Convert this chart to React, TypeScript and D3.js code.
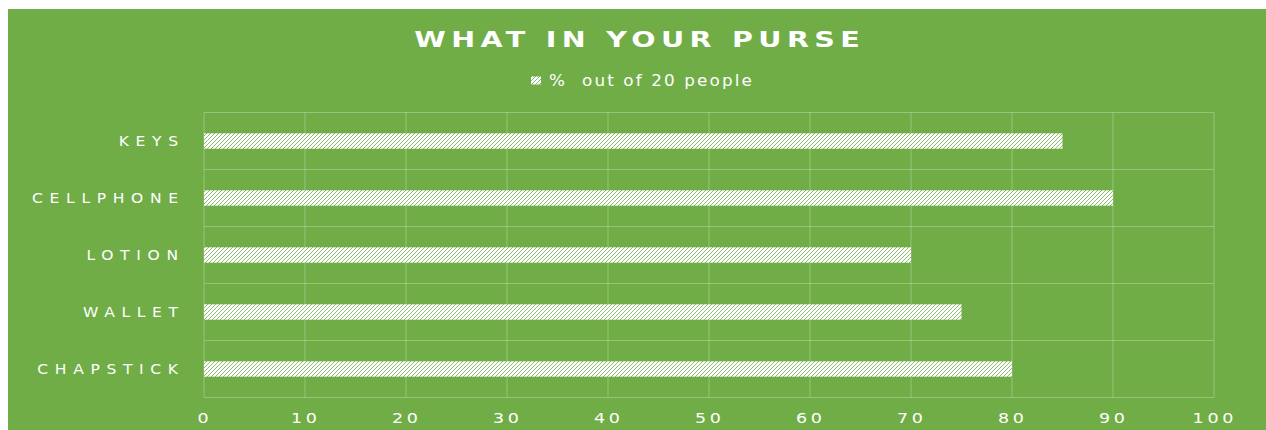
import React from "react";
import * as d3 from "d3";

const categories = ["KEYS", "CELLPHONE", "LOTION", "WALLET", "CHAPSTICK"];
const values = [85, 90, 70, 75, 80];
const xTicks = [0, 10, 20, 30, 40, 50, 60, 70, 80, 90, 100];
const seriesName = "%  out of 20 people";
const title = "WHAT IN YOUR PURSE";

const W = 1266;
const H = 430;
const GREEN = "#70AD47";
const FONT = "'DejaVu Sans', sans-serif";

export default function App() {
  const plot = { left: 204, right: 1214, top: 112.5, bottom: 397.5 };
  const x = d3.scaleLinear().domain([0, 100]).range([plot.left, plot.right]);
  const y = d3
    .scaleBand<string>()
    .domain(categories)
    .range([plot.top, plot.bottom])
    .paddingInner(0.73)
    .paddingOuter(0.365);
  const band = d3.scaleBand<string>().domain(categories).range([plot.top, plot.bottom]);
  const boundaries = categories.map((c) => band(c) as number).concat([plot.bottom]);

  const titleSX = 1.3;
  const titleLS = 4.1;
  const catSX = 1.15;
  const catLS = 5.8;
  const tickSX = 1.25;
  const tickLS = 3;
  const legSX = 1.12;
  const legLS = 1.9;

  return (
    <svg
      width={W}
      height={H}
      style={{ position: "absolute", left: 0, top: 0 }}
      xmlns="http://www.w3.org/2000/svg"
    >
      <defs>
        <pattern id="hatch" patternUnits="userSpaceOnUse" width="4" height="4">
          <rect width="4" height="4" fill="#ffffff" />
          <path d="M-1,1 l2,-2 M0,4 l4,-4 M3,5 l2,-2" stroke={GREEN} strokeWidth="0.8" />
        </pattern>
      </defs>
      <rect x={8} y={9} width={1258} height={421} fill={GREEN} />
      <text
        transform={`translate(${637 + (titleLS * titleSX) / 2},47) scale(${titleSX},1)`}
        textAnchor="middle"
        fill="#ffffff"
        fontFamily={FONT}
        fontWeight="bold"
        fontSize={22}
        letterSpacing={titleLS}
      >
        {title}
      </text>
      <rect x={531} y={76.5} width={10} height={8} fill="url(#hatch)" />
      <text
        transform={`translate(549,86) scale(${legSX},1)`}
        fill="#ffffff"
        fontFamily={FONT}
        fontSize={15}
        letterSpacing={legLS}
        style={{ whiteSpace: "pre" }}
      >
        {seriesName}
      </text>
      {xTicks.map((t) => (
        <line
          key={"v" + t}
          x1={x(t)}
          x2={x(t)}
          y1={plot.top}
          y2={plot.bottom}
          stroke="rgba(255,255,255,0.28)"
          strokeWidth={1}
        />
      ))}
      {boundaries.map((b, i) => (
        <line
          key={"h" + i}
          x1={plot.left}
          x2={plot.right}
          y1={b}
          y2={b}
          stroke="rgba(255,255,255,0.28)"
          strokeWidth={1}
        />
      ))}
      {categories.map((c, i) => (
        <rect
          key={c}
          x={x(0)}
          y={y(c)}
          width={x(values[i]) - x(0)}
          height={y.bandwidth()}
          fill="url(#hatch)"
        />
      ))}
      {categories.map((c) => (
        <text
          key={"l" + c}
          transform={`translate(${178 + catLS * catSX},${(y(c) as number) + y.bandwidth() / 2 + 5}) scale(${catSX},1)`}
          textAnchor="end"
          fill="#ffffff"
          fontFamily={FONT}
          fontSize={13.5}
          letterSpacing={catLS}
        >
          {c}
        </text>
      ))}
      {xTicks.map((t) => (
        <text
          key={"t" + t}
          transform={`translate(${x(t) + (tickLS * tickSX) / 2 - 1},423) scale(${tickSX},1)`}
          textAnchor="middle"
          fill="#ffffff"
          fontFamily={FONT}
          fontSize={14}
          letterSpacing={tickLS}
        >
          {t}
        </text>
      ))}
    </svg>
  );
}
